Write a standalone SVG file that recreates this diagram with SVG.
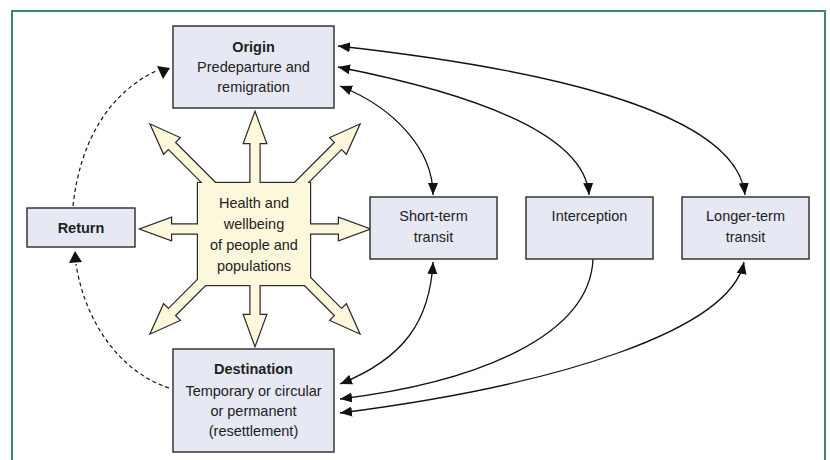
<svg xmlns="http://www.w3.org/2000/svg" width="830" height="460" viewBox="0 0 830 460">
<defs>
<style>
.frame{fill:none;stroke:#3d8a63;stroke-width:2}
.box{fill:#e6e8f4;stroke:#2a2a2a;stroke-width:1.4}
.t{font-family:"Liberation Sans",Arial,sans-serif;font-size:14.5px;fill:#222;text-anchor:middle}
.b{font-weight:bold}
.con{fill:none;stroke:#111;stroke-width:1.3}
.dash{fill:none;stroke:#111;stroke-width:1.2;stroke-dasharray:4 3}
.sO{fill:#fdf8dc;stroke:#2a2a2a;stroke-width:2.4;stroke-linejoin:miter}
.sF{fill:#fdf8dc;stroke:none}
</style>
<marker id="ah" markerUnits="userSpaceOnUse" markerWidth="13" markerHeight="11" refX="12" refY="5" orient="auto-start-reverse" viewBox="0 0 13 10">
<path d="M0,0 L12,5 L0,10 z" fill="#111"/>
</marker>
<polygon id="arrO" points="0,-4.5 84,-4.5 84,-11 114,0 84,11 84,4.5 0,4.5"/>
<polygon id="arrV" points="0,-4.5 86,-4.5 86,-11 116,0 86,11 86,4.5 0,4.5"/>
<polygon id="arrD" points="0,-4.5 118,-4.5 118,-11 147,0 118,11 118,4.5 0,4.5"/>
</defs>

<rect width="830" height="460" fill="#fff"/>
<path class="frame" d="M12,460 V11 H825 V460"/>

<g id="connectors">
<path class="con" d="M433,195 C433,150 395,108 340,86" marker-start="url(#ah)" marker-end="url(#ah)"/>
<path class="con" d="M589,195 C585,135 480,95 338,67" marker-start="url(#ah)" marker-end="url(#ah)"/>
<path class="con" d="M745,195 C738,125 600,75 338,46" marker-start="url(#ah)" marker-end="url(#ah)"/>
<path class="con" d="M433,262 C430,320 405,358 340,384" marker-start="url(#ah)" marker-end="url(#ah)"/>
<path class="con" d="M593,259 C590,335 480,382 340,399" marker-end="url(#ah)"/>
<path class="con" d="M744,262 C730,330 560,385 340,413" marker-start="url(#ah)" marker-end="url(#ah)"/>
<path class="dash" d="M73,206 C80,140 110,92 158,70"/>
<polygon points="157,66 170,68 163,79" fill="#111"/>
<path class="dash" d="M169,388 C120,372 85,322 76,264"/>
<polygon points="75,251 69,263 82,262" fill="#111"/>
</g>

<g id="health">
<g class="sO">
<use href="#arrV" transform="translate(255,229) rotate(-90)"/>
<use href="#arrV" transform="translate(255,229) rotate(90)"/>
<use href="#arrO" transform="translate(255,229)"/>
<use href="#arrO" transform="translate(255,229) rotate(180)"/>
<use href="#arrD" transform="translate(255,229) rotate(-45)"/>
<use href="#arrD" transform="translate(255,229) rotate(-135)"/>
<use href="#arrD" transform="translate(255,229) rotate(45)"/>
<use href="#arrD" transform="translate(255,229) rotate(135)"/>
<rect x="198" y="183" width="112" height="102"/>
</g>
<g class="sF">
<use href="#arrV" transform="translate(255,229) rotate(-90)"/>
<use href="#arrV" transform="translate(255,229) rotate(90)"/>
<use href="#arrO" transform="translate(255,229)"/>
<use href="#arrO" transform="translate(255,229) rotate(180)"/>
<use href="#arrD" transform="translate(255,229) rotate(-45)"/>
<use href="#arrD" transform="translate(255,229) rotate(-135)"/>
<use href="#arrD" transform="translate(255,229) rotate(45)"/>
<use href="#arrD" transform="translate(255,229) rotate(135)"/>
<rect x="198" y="183" width="112" height="102"/>
</g>
<text class="t" x="254" y="208">Health and</text>
<text class="t" x="254" y="229">wellbeing</text>
<text class="t" x="254" y="250">of people and</text>
<text class="t" x="254" y="271">populations</text>
</g>

<g id="origin">
<rect class="box" x="173" y="26" width="161" height="82"/>
<text class="t b" x="253.5" y="52">Origin</text>
<text class="t" x="253.5" y="72">Predeparture and</text>
<text class="t" x="253.5" y="92">remigration</text>
</g>

<g id="return">
<rect class="box" x="27" y="208" width="108" height="39"/>
<text class="t b" x="81" y="233">Return</text>
</g>

<g id="short-term">
<rect class="box" x="370" y="197" width="127" height="62"/>
<text class="t" x="433.5" y="221">Short-term</text>
<text class="t" x="433.5" y="242">transit</text>
</g>

<g id="interception">
<rect class="box" x="526" y="197" width="127" height="62"/>
<text class="t" x="589.5" y="221">Interception</text>
</g>

<g id="longer-term">
<rect class="box" x="682" y="197" width="127" height="62"/>
<text class="t" x="745.5" y="221">Longer-term</text>
<text class="t" x="745.5" y="242">transit</text>
</g>

<g id="destination">
<rect class="box" x="173" y="349" width="161" height="103"/>
<text class="t b" x="253.5" y="374">Destination</text>
<text class="t" x="253.5" y="396">Temporary or circular</text>
<text class="t" x="253.5" y="416">or permanent</text>
<text class="t" x="253.5" y="436">(resettlement)</text>
</g>
</svg>
